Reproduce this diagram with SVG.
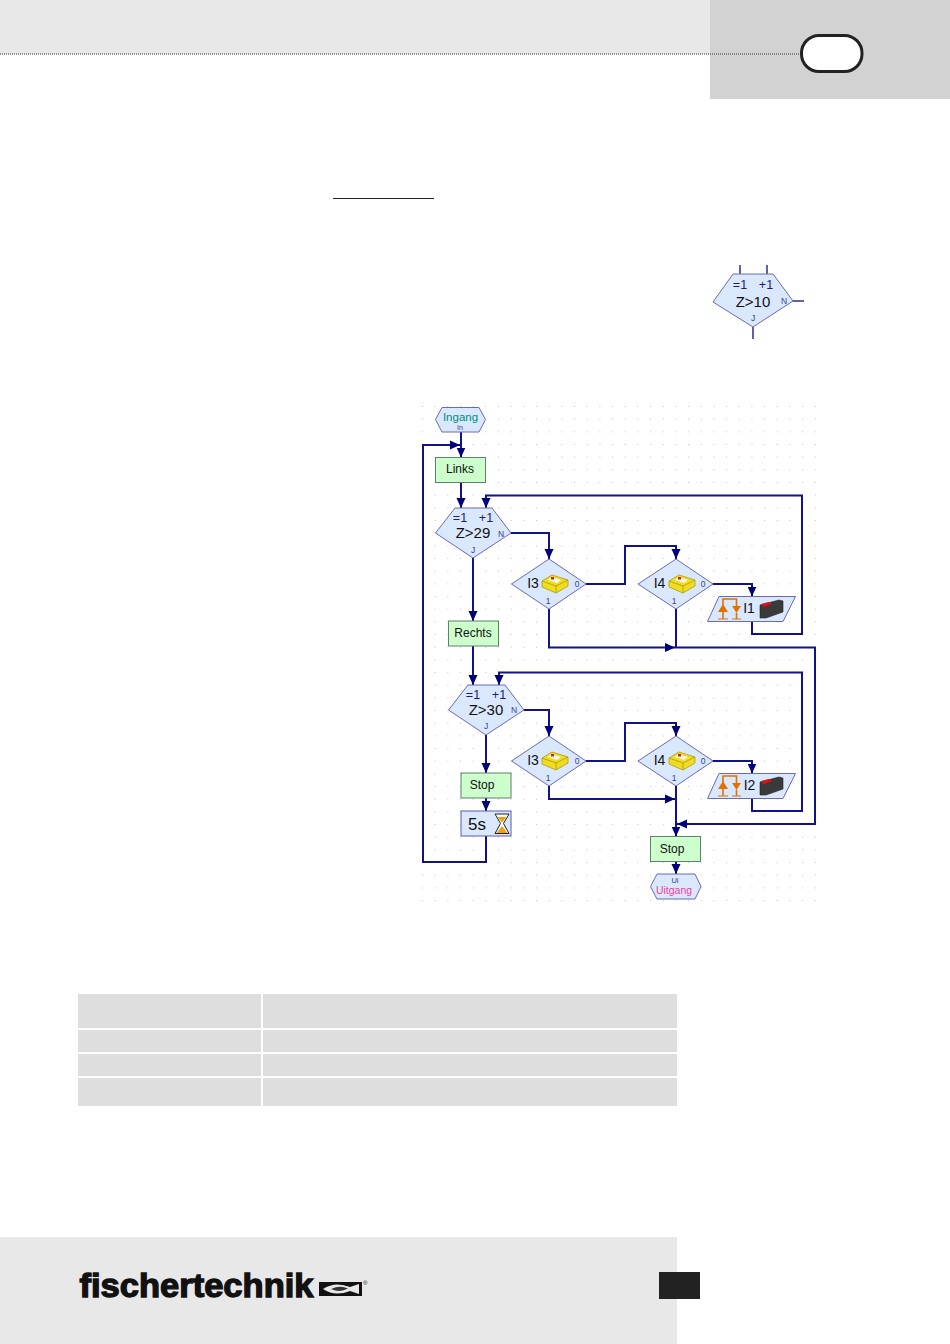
<svg xmlns="http://www.w3.org/2000/svg" xmlns:xlink="http://www.w3.org/1999/xlink" width="950" height="1344" viewBox="0 0 950 1344">
<style>
text{font-family:"Liberation Sans",Arial,sans-serif;fill:#111}
.sh{fill:#d9e8fd;stroke:#6a6ab8;stroke-width:1}
.act{fill:#ccffcc;stroke:#5f7f6f;stroke-width:1}
.tm{fill:#d9e8fd;stroke:#5a5ab0;stroke-width:1}
.c{fill:none;stroke:#12128a;stroke-width:2}
.cm{fill:none;stroke:#12128a;stroke-width:2;marker-end:url(#a)}
.big{font-size:15px;text-anchor:middle}
.mid{font-size:12px;text-anchor:middle}
.lbl{font-size:14px;text-anchor:middle}
.op{font-size:12.5px;fill:#1a1a80;text-anchor:middle}
.tiny{font-size:8.5px;fill:#3a3aa0;text-anchor:middle}
.stub{stroke:#2c2c90;stroke-width:1.5;fill:none}
.cell{fill:#dedede}
</style>
<defs>
<pattern id="grid" width="12.67" height="12.67" patternUnits="userSpaceOnUse" x="422" y="406">
<rect x="0" y="0" width="1" height="1" fill="#c4c4c4"/>
</pattern>
<marker id="a" markerUnits="userSpaceOnUse" markerWidth="12" markerHeight="12" refX="10" refY="6" orient="auto">
<path d="M0 1.500L10 6L0 10.500Z" fill="#00007a"/>
</marker>
<g id="brick">
<path d="M-13 -3L-3 -9L13 -4L13 2L1 9L-13 3Z" fill="#f0dc20" stroke="#a89000" stroke-width=".7"/>
<path d="M-13 -3L1 2L13 -4M1 2L1 9" fill="none" stroke="#a89000" stroke-width=".7"/>
<path d="M-4 -7L6 -4L2 -1L-7 -4Z" fill="#f6f6ee"/>
<rect x="-4" y="-7" width="3" height="2.500" fill="#d02020"/>
</g>
<g id="swt">
<path d="M-11 -4L8 -9L12 -8L12 3L-5 9L-11 9Z" fill="#3a3a3a" stroke="#222" stroke-width=".6"/>
<path d="M-10 -5L-2 -7L1 -5L-7 -2Z" fill="#e01010"/>
</g>
<g id="edge">
<path d="M-12 -1V-7H1.500V0" fill="none" stroke="#e07000" stroke-width="1.600"/>
<path d="M-12 -2L-7 6H-17Z" fill="#e07000"/>
<path d="M-3 0H6L1.500 7Z" fill="#e07000"/>
<path d="M-12 6V13M1.500 7V13" stroke="#e07000" stroke-width="1.600"/>
<path d="M-17 13H-7M-3 13H6" stroke="#e07000" stroke-width="1"/>
</g>
</defs>

<g id="page">
<rect width="950" height="1344" fill="#fff"/>
<rect x="0" y="0" width="710" height="54" fill="#e8e8e8"/>
<rect x="710" y="0" width="240" height="99" fill="#d2d2d2"/>
<line x1="0" y1="54" x2="801" y2="54" stroke="#333" stroke-width="1" stroke-dasharray="1 1"/>
<rect x="801.500" y="35.500" width="60.500" height="36" rx="17.500" fill="#fff" stroke="#222" stroke-width="3"/>
<line x1="333" y1="198.500" x2="434" y2="198.500" stroke="#222" stroke-width="1"/>
<rect x="420" y="405" width="400" height="497" fill="url(#grid)"/>
</g>

<g id="sample-counter">
<path class="stub" d="M740 265V274M767 265V274M753 327V339M793 301H804"/>
<path class="sh" d="M733 274H773L793 301L753 327L713 302Z"/>
<text class="op" x="740" y="289">=1</text>
<text class="op" x="766" y="289">+1</text>
<text class="big" x="753" y="307">Z&gt;10</text>
<text class="tiny" x="784" y="304">N</text>
<text class="tiny" x="753" y="321">J</text>
</g>

<g id="connectors">
<path class="cm" d="M461 432V457.500"/>
<path class="cm" d="M486 836V862H423V445H460"/>
<path class="cm" d="M461 482.500V508"/>
<path class="cm" d="M752 621.500V634H802V495.500H486V508"/>
<path class="cm" d="M511 533H549V559"/>
<path class="cm" d="M586 584H625V546H676V559"/>
<path class="cm" d="M713 584H752V596.500"/>
<path class="cm" d="M473 558V621"/>
<path class="cm" d="M549 609V647.500H675"/>
<path class="c" d="M676 609V647.500"/>
<path class="cm" d="M675 647.500H815V824H677"/>
<path class="cm" d="M473 646V685"/>
<path class="cm" d="M752 798.500V811H802V672.500H499V685"/>
<path class="cm" d="M524 710H549V736"/>
<path class="cm" d="M586 761H625V723H676V736"/>
<path class="cm" d="M713 761H752V773.500"/>
<path class="cm" d="M486 735V773"/>
<path class="cm" d="M486 798V811"/>
<path class="cm" d="M549 786V799H675"/>
<path class="cm" d="M676 786V836.500"/>
<path class="cm" d="M676 861.500V874"/>
</g>

<g id="ingang">
<path class="sh" d="M442 407.500H479L485.500 419.500L479 432H442L435.500 419.500Z"/>
<text x="460.500" y="421" font-size="11.500" text-anchor="middle" style="fill:#008c80">Ingang</text>
<text x="460" y="430" font-size="7" text-anchor="middle" style="fill:#3a3aa0">In</text>
</g>
<g id="links"><rect class="act" x="435.500" y="457.500" width="50" height="25"/><text class="mid" x="460" y="473">Links</text></g>
<g id="counter1">
<path class="sh" d="M455 508H492L511 533L473 558L435.500 533Z"/>
<text class="op" x="460" y="522">=1</text><text class="op" x="486" y="522">+1</text>
<text class="big" x="473" y="538">Z&gt;29</text>
<text class="tiny" x="501" y="537">N</text><text class="tiny" x="473" y="553">J</text>
</g>
<g id="i3a">
<path class="sh" d="M549 559L586 584L549 609L511.500 584Z"/>
<text class="lbl" x="533" y="588">I3</text><use xlink:href="#brick" x="555" y="584"/>
<text class="tiny" x="577" y="587">0</text><text class="tiny" x="548" y="604">1</text>
</g>
<g id="i4a">
<path class="sh" d="M676 559L713 584L676 609L638 584Z"/>
<text class="lbl" x="659.500" y="588">I4</text><use xlink:href="#brick" x="682" y="584"/>
<text class="tiny" x="703" y="587">0</text><text class="tiny" x="674" y="604">1</text>
</g>
<g id="i1">
<path class="sh" d="M719 596.500H795.500L783 621.500H707.500Z"/>
<use xlink:href="#edge" x="735" y="606"/>
<text class="lbl" x="749" y="613">I1</text><use xlink:href="#swt" x="771" y="609"/>
</g>
<g id="rechts"><rect class="act" x="448.500" y="621" width="50" height="25"/><text class="mid" x="473" y="637">Rechts</text></g>
<g id="counter2">
<path class="sh" d="M468 685H505L524 710L486 735L448.500 710Z"/>
<text class="op" x="473" y="699">=1</text><text class="op" x="499" y="699">+1</text>
<text class="big" x="486" y="715">Z&gt;30</text>
<text class="tiny" x="514" y="713">N</text><text class="tiny" x="486" y="729">J</text>
</g>
<g id="i3b">
<path class="sh" d="M549 736L586 761L549 786L511.500 761Z"/>
<text class="lbl" x="533" y="765">I3</text><use xlink:href="#brick" x="555" y="761"/>
<text class="tiny" x="577" y="764">0</text><text class="tiny" x="548" y="781">1</text>
</g>
<g id="i4b">
<path class="sh" d="M676 736L713 761L676 786L638 761Z"/>
<text class="lbl" x="659.500" y="765">I4</text><use xlink:href="#brick" x="682" y="761"/>
<text class="tiny" x="703" y="764">0</text><text class="tiny" x="674" y="781">1</text>
</g>
<g id="i2">
<path class="sh" d="M719 773.500H795.500L783 798.500H707.500Z"/>
<use xlink:href="#edge" x="735" y="783"/>
<text class="lbl" x="749.500" y="790">I2</text><use xlink:href="#swt" x="771" y="786"/>
</g>
<g id="stop1"><rect class="act" x="461" y="773" width="50" height="25"/><text class="mid" x="482" y="789">Stop</text></g>
<g id="wait5s">
<rect class="tm" x="461" y="811" width="50" height="25"/>
<text x="477" y="830" font-size="17" text-anchor="middle">5s</text>
<path d="M495 814H509L503.500 823.500L509 833.500H495L500.500 823.500Z" fill="#fff" stroke="#222" stroke-width="1"/>
<path d="M497.500 817H506.500L502 822.500ZM496.500 833L502 826L507.500 833Z" fill="#f0a010"/>
</g>
<g id="stop2"><rect class="act" x="650.500" y="836.500" width="50" height="25"/><text class="mid" x="672" y="852.500">Stop</text></g>
<g id="uitgang">
<path class="sh" d="M657 874H695L701 886.500L695 899H657L650.500 886.500Z"/>
<text x="675" y="883" font-size="7.500" text-anchor="middle" style="fill:#3a3aa0">Ui</text>
<text x="674" y="893.500" font-size="10.500" text-anchor="middle" style="fill:#f0409a">Uitgang</text>
</g>

<g id="table">
<rect class="cell" x="78" y="994" width="183" height="34"/><rect class="cell" x="263" y="994" width="414" height="34"/>
<rect class="cell" x="78" y="1030" width="183" height="22"/><rect class="cell" x="263" y="1030" width="414" height="22"/>
<rect class="cell" x="78" y="1054" width="183" height="22"/><rect class="cell" x="263" y="1054" width="414" height="22"/>
<rect class="cell" x="78" y="1078" width="183" height="28"/><rect class="cell" x="263" y="1078" width="414" height="28"/>
</g>

<g id="footer">
<rect x="0" y="1237" width="677" height="107" fill="#e8e8e8"/>
<rect x="659" y="1272" width="41" height="27" fill="#222"/>
<text x="79.500" y="1297" font-size="33" font-weight="bold" textLength="234" lengthAdjust="spacingAndGlyphs" style="stroke:#111;stroke-width:1.300">fischertechnik</text>
<rect x="319" y="1282" width="43" height="14" fill="#111"/>
<path d="M323 1289Q335 1281 350 1287L359 1284V1294L350 1291Q335 1297 323 1289Z" fill="#e8e8e8"/>
<path d="M331 1289Q340 1285 348 1288.500Q340 1293 331 1289Z" fill="#333"/>
<text x="363" y="1285" font-size="6">®</text>
</g>
</svg>
